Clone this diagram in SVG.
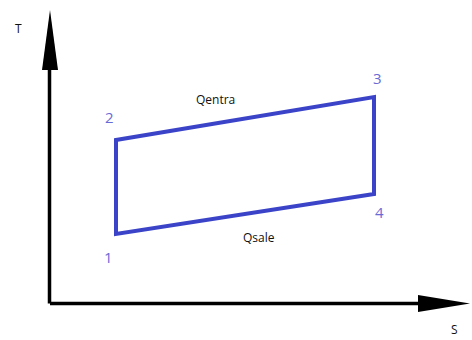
<svg xmlns="http://www.w3.org/2000/svg" width="472" height="340" viewBox="0 0 472 340">
<style>
.ax{stroke:#000;stroke-width:3.5;fill:none}
.cyc{stroke:#3b44c8;stroke-width:4;fill:none;stroke-linejoin:miter}
.num{font-family:"Open Sans","Liberation Sans",sans-serif;font-size:15px;fill:#6a6ad6}
.lbl{font-family:"Open Sans","Liberation Sans",sans-serif;font-size:12px;fill:#111}
</style>
<rect width="472" height="340" fill="#fff"/>
<g id="axes">
<path class="ax" d="M50 303.5H430M49.5 303.5V60"/>
<polygon points="50,10 58,70 42,70" fill="#000"/>
<polygon points="470,303.5 418,295 418,312" fill="#000"/>
<text class="lbl" x="15" y="33" fill="#222">T</text>
<text class="lbl" x="451" y="334">S</text>
</g>
<g id="connectors">
<path class="cyc" d="M116 234L116 140L374 97L374 194Z"/>
</g>
<g id="n1"><text class="num" x="104" y="263">1</text></g>
<g id="n2"><text class="num" x="105" y="123">2</text></g>
<g id="n3"><text class="num" x="373" y="84">3</text></g>
<g id="n4"><text class="num" x="375" y="218">4</text></g>
<g id="qentra"><text class="lbl" x="196" y="104">Qentra</text></g>
<g id="qsale"><text class="lbl" x="243" y="242">Qsale</text></g>
</svg>
